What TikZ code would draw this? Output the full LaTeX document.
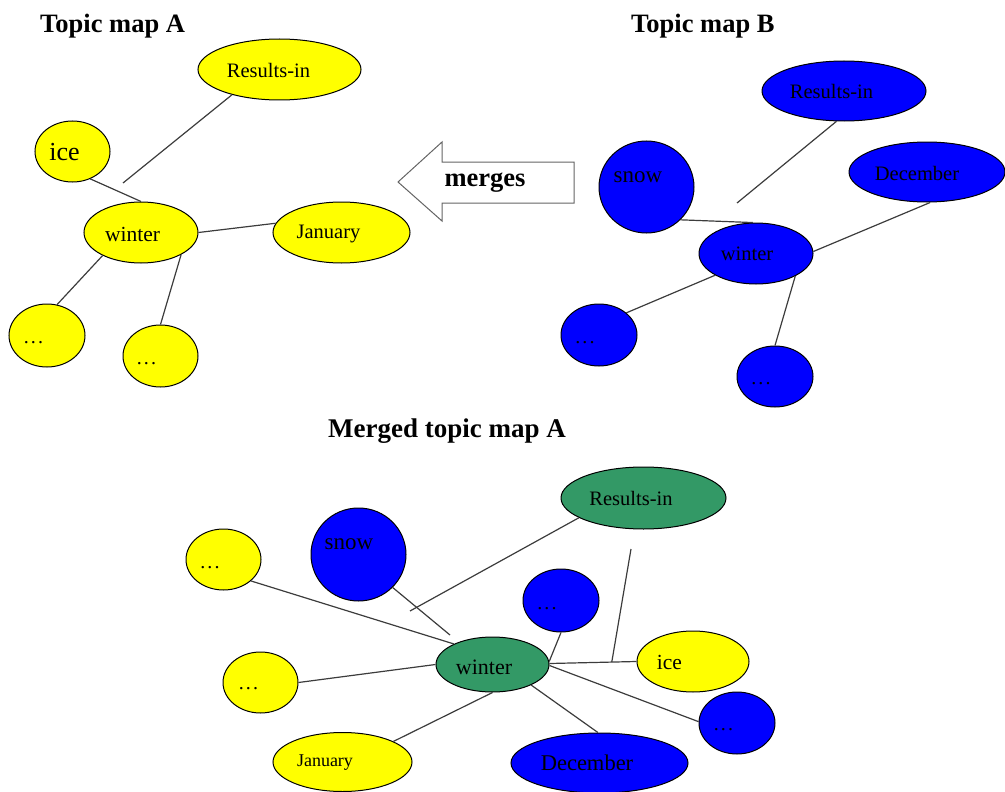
\documentclass[tikz,border=0pt]{standalone}
\usepackage{fontspec}
\setmainfont{Liberation Serif}
\usetikzlibrary{shapes.geometric,calc}
\definecolor{yel}{RGB}{255,255,0}
\definecolor{blu}{RGB}{0,0,255}
\definecolor{grn}{RGB}{51,153,102}
\definecolor{wire}{RGB}{60,60,60}
\definecolor{arrowline}{RGB}{100,100,100}
\newcommand\tsz[1]{\fontsize{#1}{#1}\selectfont}
% three spaced dots standing for further topics
\newcommand\dotrow{.\kern2.2pt.\kern2.2pt.}

\begin{document}
\begin{tikzpicture}[x=1pt,y=-1pt,
  blob/.style={ellipse, draw=black, line width=1pt, inner sep=0pt},
  yblob/.style={blob, fill=yel},
  bblob/.style={blob, fill=blu},
  gblob/.style={blob, fill=grn},
  lbl/.style={inner sep=0pt, font=\tsz{20.5}},
  dots/.style={inner sep=0pt, anchor=base, font=\tsz{20}},
  title/.style={inner sep=0pt, anchor=base west, font=\tsz{26.5}\bfseries},
  link/.style={draw=wire, line width=1.2pt},
]
\useasboundingbox (0,0) rectangle (1005,792);

% ---------------- Topic map A ----------------
\node[title] (ttlA) at (40,33) {Topic map A};
\node[yblob, minimum width=163, minimum height=61] (resA) at (279.5,69.5) {};
\node[yblob, minimum width=75,  minimum height=61] (iceA) at (72.5,151.5) {};
\node[yblob, minimum width=114, minimum height=61] (winA) at (141,232.5) {};
\node[yblob, minimum width=137, minimum height=61] (janA) at (341.5,232.5) {};
\node[yblob, minimum width=76,  minimum height=63] (d1A)  at (47,335.5) {};
\node[yblob, minimum width=75,  minimum height=62] (d2A)  at (160.5,356) {};
\node[lbl] (resAt) at (268.5,70) {Results-in};
\node[lbl, font=\tsz{26}] (iceAt) at (64.5,152) {ice};
\node[lbl, font=\tsz{21.5}] (winAt) at (132.5,234) {winter};
\node[lbl] (janAt) at (328.5,234) {January};
\node[dots] (d1At) at (33.5,343) {\dotrow};
\node[dots] (d2At) at (146.5,364) {\dotrow};
\coordinate (fA) at (123,183);
\draw[link] (resA.-152) -- (fA);
\draw[link] (iceA.-57) -- (winA.90);
\draw[link] (winA.0) -- (janA.172);
\draw[link] (winA.-149) -- (d1A.72);
\draw[link] (winA.-29) -- (d2A.90);

% ---------------- Topic map B ----------------
\node[title] (ttlB) at (631,33) {Topic map B};
\node[bblob, minimum width=164, minimum height=60] (resB) at (844,91) {};
\node[bblob, minimum width=95,  minimum height=92] (snowB) at (646.5,187) {};
\node[bblob, minimum width=156, minimum height=60] (decB) at (927,172) {};
\node[bblob, minimum width=114, minimum height=61] (winB) at (756,253.5) {};
\node[bblob, minimum width=76,  minimum height=62] (dlB)  at (599,335) {};
\node[bblob, minimum width=76,  minimum height=61] (dbB)  at (775,376.5) {};
\node[lbl] (resBt) at (831.5,91) {Results-in};
\node[lbl, font=\tsz{23}] (snowBt) at (638,177) {snow};
\node[lbl] (decBt) at (917,173) {December};
\node[lbl] (winBt) at (747,254) {winter};
\node[dots] (dlBt) at (585,343) {\dotrow};
\node[dots] (dbBt) at (761,384) {\dotrow};
\coordinate (fB) at (737,203);
\draw[link] (resB.-104) -- (fB);
\draw[link] (snowB.-44) -- (winB.96);
\draw[link] (decB.-84) -- (winB.2);
\draw[link] (winB.-152) -- (dlB.39);
\draw[link] (winB.-30) -- (dbB.90);

% ---------------- merge arrow ----------------
\coordinate (mTip) at (398,182);
\draw[draw=arrowline, fill=white, line width=1pt]
  (mTip) -- (442,142) -- (442,162) -- (574,162) -- (574,203)
  -- (442,203) -- (442,221) -- cycle;
\node[inner sep=0pt, font=\tsz{26.5}\bfseries] (mergeT) at (485,183) {merges};

% ---------------- Merged topic map A ----------------
\node[title, font=\tsz{27}\bfseries] (ttlM) at (328,437) {Merged topic map A};
\node[gblob, minimum width=165, minimum height=62] (resM) at (643.5,498) {};
\node[yblob, minimum width=75,  minimum height=61] (dTL)  at (223.5,559.5) {};
\node[bblob, minimum width=95,  minimum height=93] (snowM) at (358.5,554.5) {};
\node[bblob, minimum width=76,  minimum height=63] (dbT)  at (561,600.5) {};
\node[gblob, minimum width=113, minimum height=55] (winM) at (492.5,664.5) {};
\node[yblob, minimum width=75,  minimum height=61] (dML)  at (260.5,682.5) {};
\node[yblob, minimum width=112, minimum height=61] (iceM) at (693,661.5) {};
\node[bblob, minimum width=76,  minimum height=62] (dR)   at (737,723) {};
\node[yblob, minimum width=139, minimum height=59] (janM) at (342.5,762) {};
\node[bblob, minimum width=177, minimum height=60] (decM) at (599.5,763) {};
\node[lbl] (resMt) at (631,498) {Results-in};
\node[dots] (dTLt) at (210,568) {\dotrow};
\node[lbl, font=\tsz{23}] (snowMt) at (349,544) {snow};
\node[dots] (dbTt) at (547,609) {\dotrow};
\node[lbl, font=\tsz{22}] (winMt) at (484,667) {winter};
\node[dots] (dMLt) at (248.5,689) {\dotrow};
\node[lbl, font=\tsz{21.5}] (iceMt) at (669.5,662) {ice};
\node[dots] (dRt) at (723.5,730) {\dotrow};
\node[lbl, font=\tsz{18}] (janMt) at (325,763) {January};
\node[lbl, font=\tsz{22.5}] (decMt) at (587,763) {December};
\coordinate (fM1) at (410,611);
\coordinate (fM2) at (631,549);
\coordinate (fM3) at (450,635);
\coordinate (jM) at ($(winM.1.5)!0.716!(iceM.180)$);
\draw[link] (resM.-163) -- (fM1);
\draw[link] (fM2) -- (jM);
\draw[link] (dTL.-38) -- (winM.152);
\draw[link] (snowM.-44) -- (fM3);
\draw[link] (dbT.-90) -- (winM.3);
\draw[link] (winM.1.5) -- (iceM.180);
\draw[link] (winM.-1.5) -- (dR.178);
\draw[link] (winM.-28) -- (decM.93);
\draw[link] (winM.180) -- (dML.0);
\draw[link] (winM.-90) -- (janM.22);
\end{tikzpicture}
\end{document}
